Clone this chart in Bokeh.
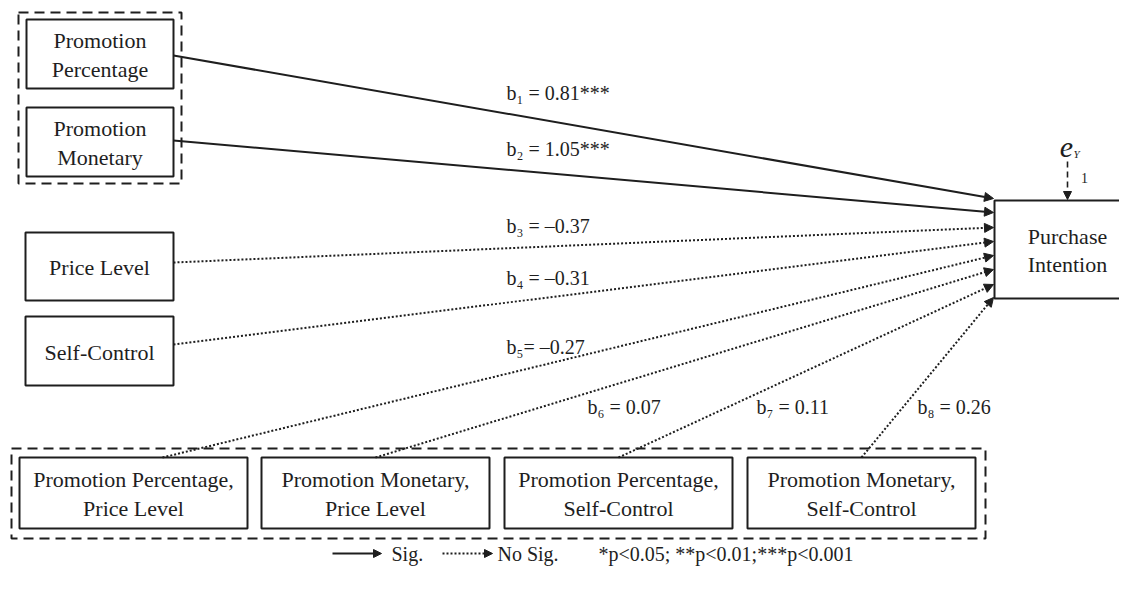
from bokeh.plotting import figure
from bokeh.models import Range1d, Arrow, NormalHead, ColumnDataSource
from bokeh.core.properties import value
from bokeh.embed import file_html
from bokeh.resources import INLINE

# ---------------- data ----------------
predictor_labels = [
    "Promotion\nPercentage",
    "Promotion\nMonetary",
    "Price Level",
    "Self-Control",
    "Promotion Percentage,\nPrice Level",
    "Promotion Monetary,\nPrice Level",
    "Promotion Percentage,\nSelf-Control",
    "Promotion Monetary,\nSelf-Control",
]
outcome_label = "Purchase\nIntention"
coef_names = ["b\u2081", "b\u2082", "b\u2083", "b\u2084", "b\u2085", "b\u2086", "b\u2087", "b\u2088"]
coef_values = [0.81, 1.05, -0.37, -0.31, -0.27, 0.07, 0.11, 0.26]
coef_stars = ["***", "***", "", "", "", "", "", ""]
coef_sep = [" = ", " = ", " = ", " = ", "= ", " = ", " = ", " = "]
significant = [True, True, False, False, False, False, False, False]
legend_labels = ["Sig.", "No Sig."]
pvalue_note = "*p<0.05; **p<0.01;***p<0.001"

# ---------------- layout (page pixels) ----------------
FONT = value("Liberation Serif")
INK = "#1e1e1e"
DOT = "2 2"
# predictor boxes: left, right, top, bottom
box_geo = [
    (26, 173, 19, 88),
    (26, 173, 107, 176),
    (25, 173, 232, 300),
    (25, 173, 316, 385),
    (19, 247, 457, 528),
    (261, 489, 457, 528),
    (504, 732, 457, 528),
    (747, 975, 457, 528),
]
# arrow start points on predictor boxes
start_pts = [(173, 55), (173, 140), (173, 262), (173, 344),
             (162, 457), (375, 457), (618, 457), (861, 457)]
# arrow end y on outcome box left edge
out_left, out_right, out_top, out_bottom = 994, 1140, 200, 298
end_y = [198, 212, 227, 241, 255, 269, 284, 297]
label_pos = [(506, 92), (506, 148), (506, 225), (506, 277),
             (506, 346), (587, 406), (756, 406), (917, 406)]

p = figure(width=1119, height=574, output_backend="svg", toolbar_location=None,
           x_range=Range1d(0, 1119), y_range=Range1d(574, 0), min_border=0)
p.axis.visible = False
p.grid.visible = False
p.outline_line_color = None
p.background_fill_color = "white"
p.border_fill_color = "white"

# group dashed frames
p.quad(left=[18, 11], right=[181, 985], top=[12, 448], bottom=[183, 538],
       fill_color=None, line_color=INK, line_width=2, line_dash="10 6")

# path arrows
for i, (sx, sy) in enumerate(start_pts):
    sig = significant[i]
    p.add_layout(Arrow(
        x_start=sx, y_start=sy, x_end=out_left - 1, y_end=end_y[i],
        line_color=INK, line_width=2,
        line_dash="solid" if sig else DOT,
        end=NormalHead(size=9, fill_color=INK, line_color=INK, line_width=1)))

# boxes
src = ColumnDataSource(dict(
    left=[g[0] for g in box_geo], right=[g[1] for g in box_geo],
    top=[g[2] for g in box_geo], bottom=[g[3] for g in box_geo],
    x=[(g[0] + g[1]) / 2 for g in box_geo],
    y=[(g[2] + g[3]) / 2 + 1 for g in box_geo],
    text=predictor_labels))
p.quad(left="left", right="right", top="top", bottom="bottom", source=src,
       fill_color="white", line_color=INK, line_width=2)
p.text(x="x", y="y", text="text", source=src, text_font=FONT,
       text_font_size="22px", text_align="center", text_baseline="middle",
       text_color=INK, text_line_height=1.15)

# outcome box
p.quad(left=[out_left], right=[out_right], top=[out_top], bottom=[out_bottom],
       fill_color="white", line_color=INK, line_width=2)
p.text(x=[(out_left + out_right) / 2], y=[(out_top + out_bottom) / 2 + 1],
       text=[outcome_label], text_font=FONT, text_font_size="22px",
       text_align="center", text_baseline="middle", text_color=INK,
       text_line_height=1.15)

# error term
p.add_layout(Arrow(x_start=1067, y_start=161, x_end=1067, y_end=out_top - 1,
                   line_color=INK, line_width=1.6, line_dash="6 4",
                   end=NormalHead(size=8, fill_color=INK, line_color=INK, line_width=1)))
p.text(x=[1066], y=[147], text=["e"], text_font=FONT, text_font_size="30px",
       text_font_style="italic", text_align="center", text_baseline="middle",
       text_color=INK)
p.text(x=[1073], y=[153], text=["Y"], text_font=FONT, text_font_size="11px",
       text_font_style="italic", text_align="left", text_baseline="middle",
       text_color=INK)
p.text(x=[1084], y=[177], text=["1"], text_font=FONT, text_font_size="14px",
       text_align="center", text_baseline="middle", text_color=INK)

# coefficient labels
def fmt(v):
    s = f"{abs(v):.2f}"
    return ("\u2013" + s) if v < 0 else s

coef_text = [coef_names[i] + coef_sep[i] + fmt(coef_values[i]) + coef_stars[i]
             for i in range(len(coef_values))]
p.text(x=[lp[0] for lp in label_pos], y=[lp[1] for lp in label_pos],
       text=coef_text, text_font=FONT, text_font_size="20px",
       text_align="left", text_baseline="middle", text_color=INK)

# legend
ly = 553
p.add_layout(Arrow(x_start=332, y_start=ly, x_end=381, y_end=ly, line_color=INK,
                   line_width=2, end=NormalHead(size=8, fill_color=INK, line_color=INK, line_width=1)))
p.add_layout(Arrow(x_start=442, y_start=ly, x_end=492, y_end=ly, line_color=INK,
                   line_width=2, line_dash=DOT,
                   end=NormalHead(size=8, fill_color=INK, line_color=INK, line_width=1)))
p.text(x=[391, 497, 598], y=[ly, ly, ly], text=legend_labels + [pvalue_note],
       text_font=FONT, text_font_size="20px", text_align="left",
       text_baseline="middle", text_color=INK)

open("out.html", "w").write(file_html(p, INLINE))
